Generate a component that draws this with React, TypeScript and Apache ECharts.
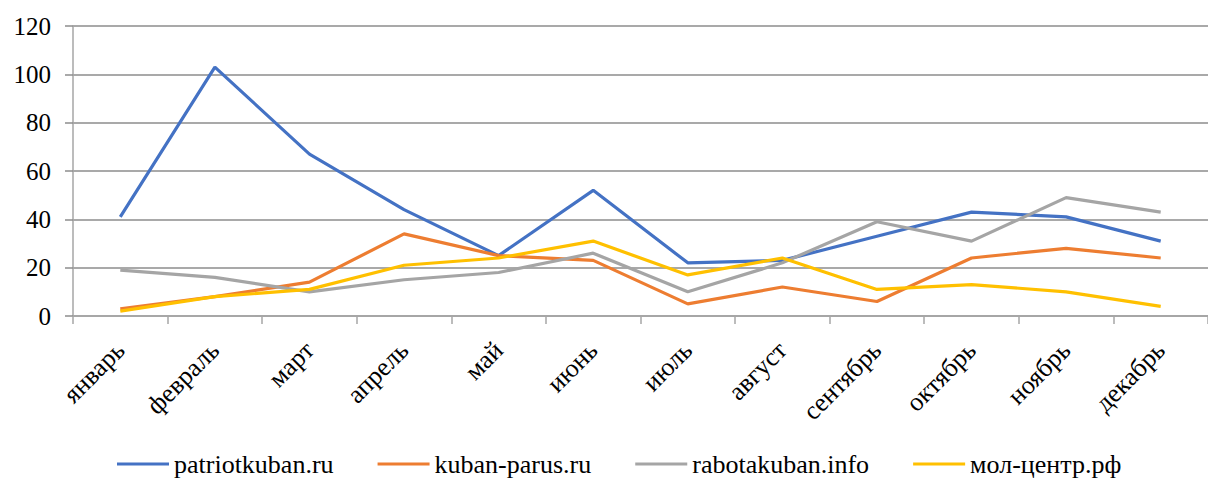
import React, { useEffect, useRef } from "react";
import * as echarts from "echarts";

const months = ["январь", "февраль", "март", "апрель", "май", "июнь", "июль", "август", "сентябрь", "октябрь", "ноябрь", "декабрь"];
const patriotkuban = [41, 103, 67, 44, 25, 52, 22, 23, 33, 43, 41, 31];
const kubanParus = [3, 8, 14, 34, 25, 23, 5, 12, 6, 24, 28, 24];
const rabotakuban = [19, 16, 10, 15, 18, 26, 10, 22, 39, 31, 49, 43];
const molCentr = [2, 8, 11, 21, 24, 31, 17, 24, 11, 13, 10, 4];
const seriesNames = ["patriotkuban.ru", "kuban-parus.ru", "rabotakuban.info", "мол-центр.рф"];
const colors = ["#4472C4", "#ED7D31", "#A5A5A5", "#FFC000"];

const FONT = "Liberation Serif";

export default function App() {
  const ref = useRef<HTMLDivElement>(null);
  useEffect(() => {
    const chart = echarts.init(ref.current!, undefined, { renderer: "svg" });
    const data = [patriotkuban, kubanParus, rabotakuban, molCentr];
    chart.setOption({
      animation: false,
      color: colors,
      textStyle: { fontFamily: FONT, color: "#000" },
      grid: { left: 73, right: -5, top: 26, bottom: 163, containLabel: false },
      legend: {
        left: 112,
        top: 446,
        icon: "rect",
        itemWidth: 52,
        itemHeight: 3,
        itemGap: 44,
        textStyle: { fontFamily: FONT, fontSize: 26, color: "#000" },
        data: seriesNames,
      },
      xAxis: {
        type: "category",
        data: months,
        boundaryGap: true,
        axisLine: { show: true, lineStyle: { color: "#A6A6A6", width: 1.5 } },
        axisTick: { show: true, length: 8, lineStyle: { color: "#A6A6A6", width: 1.5 } },
        axisLabel: { rotate: 45, margin: 30, fontSize: 26, color: "#000", fontFamily: FONT, interval: 0 },
      },
      yAxis: {
        type: "value",
        min: 0,
        max: 120,
        interval: 20,
        axisLine: { show: true, lineStyle: { color: "#A6A6A6", width: 1.5 } },
        axisTick: { show: true, length: 8, lineStyle: { color: "#8C8C8C", width: 1.5 } },
        splitLine: { show: true, lineStyle: { color: "#8C8C8C", width: 1.5 } },
        axisLabel: { margin: 22, fontSize: 25, color: "#000", fontFamily: FONT },
      },
      series: seriesNames.map((n, i) => ({
        name: n,
        type: "line",
        data: data[i],
        symbol: "none",
        lineStyle: { width: 3.2, color: colors[i] },
        itemStyle: { color: colors[i] },
      })),
    });
    return () => chart.dispose();
  }, []);
  return (
    <div
      ref={ref}
      style={{ position: "absolute", left: 0, top: 0, width: 1208, height: 479, background: "#fff" }}
    />
  );
}
